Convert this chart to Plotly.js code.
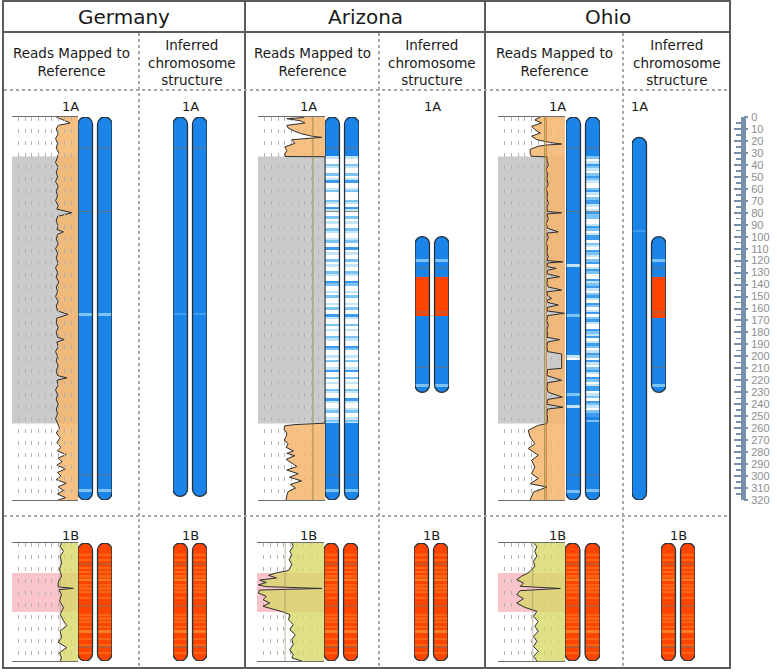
<!DOCTYPE html>
<html><head><meta charset="utf-8">
<script src="https://cdn.plot.ly/plotly-3.0.1.min.js"></script>
<style>html,body{margin:0;padding:0;background:#fff;} #chart{width:777px;height:672px;}</style>
</head><body><div id="chart"></div>
<script>
// ================= DATA =================
const locations = ['Germany', 'Arizona', 'Ohio'];
const subHeaders = ['Reads Mapped to<br>Reference', 'Inferred<br>chromosome<br>structure'];
const chromNames = ['1A', '1B'];
const len1A = 320, len1B = 98.6;              // Mb
const lowRegion1A = [33, 256];                 // grey band (Mb)
const pinkRegion1B = [25, 57.6];               // pink band (Mb)
const rulerTicks = [0,10,20,30,40,50,60,70,80,90,100,110,120,130,140,150,160,170,180,190,200,210,220,230,240,250,260,270,280,290,300,310,320];

// read coverage (% of panel width), 1A
const germany1A_pos = [0,2,5,7,10,14,18,22,26,30,34,38,42,46,50,54,58,62,66,70,74,77,80,83,87,91,94,96,98,102,106,110,114,118,122,126,130,134,138,142,146,150,154,158,162,165,168,172,176,180,184,186,188,192,196,200,204,208,212,216,218,220,224,228,232,236,240,244,248,252,256,260,264,268,272,276,279,282,285,288,291,294,297,300,303,306,309,312,315,318,320];
const germany1A_cov = [33,25,12,30,33,30,34,31,33,29,32,34,30,33,31,34,30,33,31,34,30,32,9,31,33,30,32,22,31,33,30,34,31,33,30,34,31,33,29,33,31,34,30,33,31,15,32,33,30,33,31,21,32,30,34,31,33,30,33,31,17,32,30,34,31,33,30,33,31,34,31,28,33,27,32,26,31,18,30,24,32,19,31,26,33,18,30,22,31,19,30];
const arizona1A_pos = [0,0.5,1.4,3.1,5,7,9.2,12,14,16,17,18,19,22,25,28,31,33,33.2,255.8,256.3,257,258,261,264,267,270,273,276,279,281,283,286,289,292,295,298,301,304,307,310,313,316,320];
const arizona1A_cov = [32,32,57,37,30,57,55,45,35,20,5,30,50,45,60,57,60,59,0,0,30,45,60,61,57,58,61,55,58,47,57,45,58,50,42,57,40,53,35,52,44,55,57,58];
const ohio1A_pos = [0,2.5,5,7.8,10.6,13.4,16,19,21.5,22.6,23.5,24.5,27,31,32.8,33.3,36,40,44,48,52,56,60,64,68,72,76,79,80,81,85,89,93,96,97,101,105,109,113,117,120,121,122,125,126.5,128,131,133.5,135,139,142,144.6,146,149,151.6,153,155,157,159,162,164,166,170,174,178,182,184,186,188,192,196,198,210,211,216,220,222,226,230,234,236,240,242.5,244,248,252,255.8,256.2,257.6,259,261.8,267.4,273,277,282.6,286.8,292.4,298,302,306.4,309.2,313.4,320];
const ohio1A_cov = [37,45,35,50,45,37,50,42,20,5,30,40,52,52,50,27,27,25,28,26,27,25,28,26,27,25,27,26,5,27,25,28,26,10,27,25,28,26,27,25,27,3,26,27,13,26,27,8,26,27,25,5,27,26,20,27,26,10,26,27,1,26,27,25,27,26,27,8,26,27,26,5,5,26,27,5,26,27,25,4,26,27,3,26,27,26,27,27,40,45,55,52,45,55,40,50,45,50,40,52,27,47,52];
// read coverage, 1B
const germany1B_pos = [0,2.8,7,11,16.7,22,27.6,33,36.7,37.9,39,42.9,48.5,54,59.6,65,69,73.5,79,83,87.4,91.6,96,98.6];
const germany1B_cov = [25,27,22,27,25,28,25,30,30,7,29,25,28,22,27,22,17,27,25,30,17,28,25,27];
const arizona1B_pos = [0,2.8,7,9.7,13.9,18,23,25,27,29.2,31,33,35,36.5,38,39.3,41.8,44.6,47.4,50.1,52.9,55.7,57.6,59.9,64,68.2,72.4,76.6,80.7,84.9,89.1,93.3,96,98.6];
const arizona1B_cov = [48,46,51,48,52,48,53,71,83,71,96,86,98,86,3,96,98,86,91,81,91,73,61,51,53,46,51,43,48,46,51,46,48,33];
const ohio1B_pos = [0,2.8,7,11,15.3,19.5,23.7,25.6,27.8,30.6,33.4,36.2,38,39.8,43.2,46.5,50.1,53.8,57.1,61.3,65.5,69.6,73.8,78,82.2,86.4,90.5,94.7,98.6];
const ohio1B_cov = [47,42,45,42,47,45,52,57,65,72,62,67,7,67,72,62,72,60,42,47,40,45,40,47,42,47,40,47,42];
// mean-coverage guide lines (% of panel width)
const guide1A = [[], [[18,'rgba(125,130,60,0.75)']], [[30.5,'rgba(120,160,60,0.8)'],[28,'rgba(225,90,50,0.85)']]];
const guide1B = [[[27,'rgba(150,120,90,0.45)']], [[58,'rgba(150,130,90,0.6)']], [[48,'rgba(150,130,90,0.6)']]];

// chromosome colouring: level 0 solid blue ... 4 white, 5 red-orange, 6/7 lighter orange
const arizonaStripes = [3,4,4,2,3,4,4,2, 4,3,1,4,4,3,2,4, 4,4,2,3,4,1,3,4, 4,2,4,3,4,4,2,3, 4,4,3,2,4,4,1,4, 3,4,4,2,4,3,4,4, 2,3,4,4,1,2,4,4, 3,4,2,4,4,3,4,2, 4,4,1,3,4,4,2,4, 3,4,4,2,3,4,4,1, 2,4,4,3,4,2,4,4, 3,1,4,4,2,4,3,4, 4,2,3,4,4,1,3,4, 4,3,2,4,4,3,2,3];
const ohioChr2Stripes = [2,4,3,1,2,3,4,2, 1,2,3,4,4,2,1,3, 4,2,1,1,3,4,3,1, 2,2,4,4,3,1,2,4, 3,1,1,4,2,3,4,1, 2,3,4,2,1,4,3,1, 2,4,4,1,3,2,1,3, 4,2,1,3,4,1,2,4, 3,1,4,2,1,3,4,4, 1,2,3,1,4,3,1,2, 4,3,1,2,4,1,3,4, 2,1,3,4,1,2,4,3, 1,1,4,3,2,4,1,2, 3,4,2,1,1,0,2,0];
const germanyBands = [[165,2],[312,2]];
const ohioChr1Bands = [[124,3],[166,2],[200,3],[202,4],[232,2],[242,3],[313,2]];
const inferredBands = [[120,2],[224,2]];
const bands1B = [[4,6],[10,6],[14,6],[21,6],[24,6],[28,6],[31,7],[35,6],[38,6],[41,6],[46,6],[60,6],[63,6],[66,6],[70,6],[74,7],[80,6],[85,6],[92,6]];
const markers1A = [26, 79, 299];
const markersShort = [126, 163, 209];
const markers1B = [17.6, 52.5, 87];
const introgression = [134, 166];
const introgressionOhio = [134, 168];

// ================= LAYOUT HELPERS =================
const W = 777, H = 672;
const px = v => v / W, py = v => 1 - v / H;
const rowPx = {A: [117, 500], B: [543, 661]};
const boxPx = {A: [[12,78],[258,325],[498,565]], B: [[12,78],[257,324],[498,565]]};
const readChromPx = {A: [[78,112],[325,359],[566,600]], B: [[78,112],[324,358],[565,600]]};
const infChromPx = {A: [[173,207],[415,449],[632,666]], B: [[173,207],[414,448],[661,695]]};
const colPx = [[3,245],[245,485],[485,730]];
const splitPx = [139, 379, 623];
const SLOT = [[0,1],[1.35,2.35]];
const CAP = 6, BIN = 1;
const colors = ['#1a84e8','#3d9cef','#7cc4f6','#c2e5fb','#ffffff','#ff4500','#ff6415','#ff7f22'];
const colorscale = colors.map((c,i)=>[i/7,c]);
const rulerColor = '#7791ad';

const layout = {
  width: W, height: H, margin: {l:0,r:0,t:0,b:0},
  paper_bgcolor: '#ffffff', plot_bgcolor: 'rgba(0,0,0,0)', showlegend: false,
  shapes: [], annotations: [],
  yaxis: {domain:[py(rowPx.A[1]), py(rowPx.A[0])], range:[len1A,0], visible:false, anchor:'free', position:0, fixedrange:true},
  yaxis2: {domain:[py(rowPx.B[1]), py(rowPx.B[0])], range:[len1B,0], visible:false, anchor:'free', position:0, fixedrange:true},
  yaxis3: {domain:[py(rowPx.A[1]), py(rowPx.A[0])], range:[len1A,0], anchor:'free', position:px(743), side:'right',
    showline:true, linecolor:rulerColor, linewidth:5, showgrid:false, zeroline:false,
    tickvals: rulerTicks, ticktext: rulerTicks.map(String), ticks:'inside', ticklen:7, tickwidth:2, tickcolor:rulerColor,
    minor:{dtick:5, tick0:5, ticks:'inside', ticklen:5, tickwidth:1.5, tickcolor:rulerColor, showgrid:false},
    ticklabelstandoff: 3,
    tickfont:{family:'Liberation Sans, Arial, sans-serif', size:11, color:'#8d8d8d'}, fixedrange:true},
  yaxis4: {domain:[py(rowPx.A[1]), py(rowPx.A[0])], range:[len1A,0], anchor:'free', position:px(743), side:'right', overlaying:'y3',
    showline:false, showgrid:false, zeroline:false, showticklabels:false,
    tickvals: rulerTicks, ticks:'outside', ticklen:4, tickwidth:2, tickcolor:rulerColor, fixedrange:true},
};
const traces = [];
let xCount = 0;
function newX(dom, range, anchor, extra) {
  xCount++;
  const id = xCount === 1 ? 'x' : 'x' + xCount;
  const key = xCount === 1 ? 'xaxis' : 'xaxis' + xCount;
  layout[key] = Object.assign({domain:[px(dom[0]), px(dom[1])], range: range, anchor: anchor, visible:false, fixedrange:true}, extra || {});
  return id;
}
function rr(x0,x1,y0,y1,rx,ry){
  const k = 0.45;
  return `M${x0},${y0+ry} C${x0},${y0+ry*k} ${x0+rx*k},${y0} ${x0+rx},${y0} L${x1-rx},${y0} C${x1-rx*k},${y0} ${x1},${y0+ry*k} ${x1},${y0+ry} ` +
         `L${x1},${y1-ry} C${x1},${y1-ry*k} ${x1-rx*k},${y1} ${x1-rx},${y1} L${x0+rx},${y1} C${x0+rx*k},${y1} ${x0},${y1-ry*k} ${x0},${y1-ry} Z`;
}
function addChrom(xa, ya, slot, c) {
  const [x0,x1] = SLOT[slot];
  const edges = [], z = [];
  const n = Math.ceil((c.end - c.start)/BIN - 1e-9);
  for (let i=0;i<=n;i++) edges.push(Math.min(c.start + i*BIN, c.end));
  for (let i=0;i<n;i++){
    const m = (edges[i]+edges[i+1])/2;
    let lv = c.base;
    if (c.run && m >= c.run.start && m < c.run.end) {
      const k = Math.floor((m - c.run.start)/2);
      if (k < c.run.levels.length) lv = c.run.levels[k];
    }
    (c.bands||[]).forEach(b => { if (Math.abs(m - b[0]) <= 1) lv = b[1]; });
    (c.segments||[]).forEach(s => { if (m >= s[0] && m < s[1]) lv = 5; });
    if (m < c.start + CAP - 0.5 || m > c.end - CAP + 0.5) lv = null;
    z.push([lv]);
  }
  layout.shapes.push({type:'path', path: rr(x0,x1,c.start,c.end,0.5,CAP), xref:xa, yref:ya, fillcolor: colors[c.base], line:{width:0}, layer:'below'});
  traces.push({type:'heatmap', x:[x0,x1], y:edges, z:z, xaxis:xa, yaxis:ya, colorscale:colorscale, zmin:0, zmax:7, showscale:false, hoverinfo:'skip', zsmooth:false});
  const mx = [], my = [];
  (c.markers||[]).forEach(m => { mx.push(x0, x1, null); my.push(m, m, null); });
  if (mx.length) traces.push({type:'scatter', mode:'lines', x:mx, y:my, xaxis:xa, yaxis:ya, line:{color:'rgba(115,115,115,0.8)', width:1}, hoverinfo:'skip'});
  layout.shapes.push({type:'path', path: rr(x0,x1,c.start,c.end,0.5,CAP), xref:xa, yref:ya, fillcolor:'rgba(0,0,0,0)', line:{color:'#24303b', width:1.3}, layer:'above'});
}
function addCoverage(row, loc, pos, cov, region, regionColor, fillColor, guides) {
  const ya = row === 'A' ? 'y' : 'y2';
  const xa = newX(boxPx[row][loc], [100, 0], ya, {
    visible:true, showline:true, mirror:true, linecolor:'#6d6d6d', linewidth:1,
    showgrid:true, tickvals:[10,20,30,40,50,60,70,80,90], showticklabels:false, ticks:'', zeroline:false,
    gridcolor:'#b3b3b3', gridwidth:1, griddash:'4px,8px'});
  layout.shapes.push({type:'rect', xref:xa, yref:ya, x0:100, x1:0, y0:region[0], y1:region[1], fillcolor:regionColor, line:{width:0}, layer:'below'});
  traces.push({type:'scatter', mode:'lines', x:cov, y:pos, xaxis:xa, yaxis:ya, fill:'tozerox', fillcolor:fillColor, line:{color:'#2e2e2e', width:1}, hoverinfo:'skip'});
  guides.forEach(g => traces.push({type:'scatter', mode:'lines', x:[g[0],g[0]], y:[0, row==='A'?len1A:len1B], xaxis:xa, yaxis:ya, line:{color:g[1], width:1}, hoverinfo:'skip'}));
}

// ================= BUILD =================
const cov1A = [[germany1A_pos, germany1A_cov],[arizona1A_pos, arizona1A_cov],[ohio1A_pos, ohio1A_cov]];
const cov1B = [[germany1B_pos, germany1B_cov],[arizona1B_pos, arizona1B_cov],[ohio1B_pos, ohio1B_cov]];
for (let i=0;i<3;i++){
  addCoverage('A', i, cov1A[i][0], cov1A[i][1], lowRegion1A, '#cbcbcb', 'rgba(243,182,110,0.86)', guide1A[i]);
  addCoverage('B', i, cov1B[i][0], cov1B[i][1], pinkRegion1B, '#f9c4cc', 'rgba(216,216,105,0.80)', guide1B[i]);
}
const full = {start:0, end:len1A, base:0};
const readChromsA = [
  [Object.assign({}, full, {bands:germanyBands, markers:markers1A}), Object.assign({}, full, {bands:germanyBands, markers:markers1A})],
  [Object.assign({}, full, {run:{start:lowRegion1A[0], end:lowRegion1A[1], levels:arizonaStripes}, bands:[[312,2]], markers:markers1A}),
   Object.assign({}, full, {run:{start:lowRegion1A[0], end:lowRegion1A[1], levels:arizonaStripes}, bands:[[312,2]], markers:markers1A})],
  [Object.assign({}, full, {bands:ohioChr1Bands, markers:markers1A}),
   Object.assign({}, full, {run:{start:lowRegion1A[0], end:lowRegion1A[1], levels:ohioChr2Stripes}, bands:[[312,2]], markers:markers1A})]
];
const infChromsA = [
  [{start:0, end:317, base:0, bands:[[165,1]], markers:[26]}, {start:0, end:317, base:0, bands:[[165,1]], markers:[26]}],
  [{start:100, end:230, base:0, segments:[introgression], bands:inferredBands, markers:markersShort},
   {start:100, end:230, base:0, segments:[introgression], bands:inferredBands, markers:markersShort}],
  [{start:17, end:len1A, base:0, bands:[[95,1]], markers:[]},
   {start:100, end:230, base:0, segments:[introgressionOhio], bands:inferredBands, markers:markersShort}]
];
const chromB = {start:0, end:len1B, base:5, bands:bands1B, markers:markers1B};
for (let i=0;i<3;i++){
  const xr = newX(readChromPx.A[i], [0,2.35], 'y');
  readChromsA[i].forEach((c,s)=>addChrom(xr,'y',s,c));
  const xi = newX(infChromPx.A[i], [0,2.35], 'y');
  infChromsA[i].forEach((c,s)=>addChrom(xi,'y',s,c));
  const xrb = newX(readChromPx.B[i], [0,2.35], 'y2');
  [0,1].forEach(s=>addChrom(xrb,'y2',s,chromB));
  const xib = newX(infChromPx.B[i], [0,2.35], 'y2');
  [0,1].forEach(s=>addChrom(xib,'y2',s,chromB));
}
// ruler anchors
traces.push({type:'scatter', mode:'markers', x:[1], y:[0], xaxis:'x', yaxis:'y3', marker:{opacity:0}, hoverinfo:'skip'});
traces.push({type:'scatter', mode:'markers', x:[1], y:[0], xaxis:'x', yaxis:'y4', marker:{opacity:0}, hoverinfo:'skip'});

// ================= FRAME & TEXT =================
const F = 'DejaVu Sans, Verdana, sans-serif';
const frame = '#5b5b5b', dotc = '#a8a8a8';
layout.shapes.push({type:'rect', xref:'paper', yref:'paper', x0:px(3), x1:px(730), y0:py(1), y1:py(668), line:{color:frame, width:2}});
layout.shapes.push({type:'line', xref:'paper', yref:'paper', x0:px(3), x1:px(730), y0:py(32), y1:py(32), line:{color:frame, width:2}});
[245, 485].forEach(x => layout.shapes.push({type:'line', xref:'paper', yref:'paper', x0:px(x), x1:px(x), y0:py(1), y1:py(668), line:{color:frame, width:2}}));
[90, 516].forEach(y => layout.shapes.push({type:'line', xref:'paper', yref:'paper', x0:px(4), x1:px(729), y0:py(y), y1:py(y), line:{color:dotc, width:2, dash:'dot'}}));
splitPx.forEach(x => layout.shapes.push({type:'line', xref:'paper', yref:'paper', x0:px(x), x1:px(x), y0:py(33), y1:py(667), line:{color:dotc, width:2, dash:'dot'}}));

locations.forEach((name,i) => {
  const c = colPx[i];
  layout.annotations.push({text:name, xref:'paper', yref:'paper', x:px((c[0]+c[1])/2), y:py(17), xanchor:'center', yanchor:'middle', showarrow:false, font:{family:F, size:20, color:'#1a1a1a'}});
  layout.annotations.push({text:subHeaders[0], xref:'paper', yref:'paper', x:px((c[0]+splitPx[i])/2), y:py(62), xanchor:'center', yanchor:'middle', showarrow:false, font:{family:F, size:13.5, color:'#1a1a1a'}});
  layout.annotations.push({text:subHeaders[1], xref:'paper', yref:'paper', x:px((splitPx[i]+c[1])/2), y:py(62), xanchor:'center', yanchor:'middle', showarrow:false, font:{family:F, size:13.5, color:'#1a1a1a'}});
  const lab = [[readChromPx.A[i], infChromPx.A[i], 106, chromNames[0]], [readChromPx.B[i], infChromPx.B[i], 535, chromNames[1]]];
  lab.forEach(l => {
    const rx = i===0 ? 70 : (i===1 ? 308 : 557);
    layout.annotations.push({text:l[3], xref:'paper', yref:'paper', x:px(rx), y:py(l[2]), xanchor:'center', yanchor:'middle', showarrow:false, font:{family:F, size:13, color:'#1a1a1a'}});
    layout.annotations.push({text:l[3], xref:'paper', yref:'paper', x:px(l===lab[0] && i===2 ? 639 : (l[1][0]+l[1][1])/2), y:py(l[2]), xanchor:'center', yanchor:'middle', showarrow:false, font:{family:F, size:13, color:'#1a1a1a'}});
  });
});

Plotly.newPlot('chart', traces, layout, {staticPlot:true, displayModeBar:false});
</script>
</body></html>
